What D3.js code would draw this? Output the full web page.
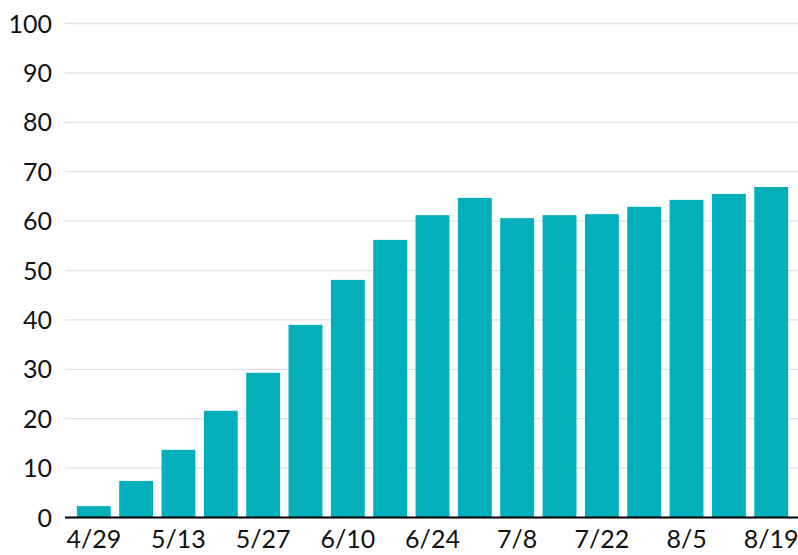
<!DOCTYPE html>
<html><head><meta charset="utf-8">
<script src="https://cdn.jsdelivr.net/npm/d3@7"></script>
<style>body{margin:0;background:#fff}svg{display:block}text{font-family:Lato,"Open Sans",sans-serif}</style>
</head><body>
<svg id="c" width="798" height="555"></svg>
<script>
const categories = ["4/29","5/6","5/13","5/20","5/27","6/3","6/10","6/17","6/24","7/1","7/8","7/15","7/22","7/29","8/5","8/12","8/19"];
const values = [2.3,7.4,13.7,21.6,29.3,39.0,48.1,56.2,61.2,64.7,60.6,61.2,61.4,62.9,64.3,65.5,66.9];
const xTickLabels = ["4/29","5/13","5/27","6/10","6/24","7/8","7/22","8/5","8/19"];
const yTicks = [0,10,20,30,40,50,60,70,80,90,100];

(function(){
const svg = d3.select("#c");
const mLeft = 65, mRight = 800, mTop = 23.5, mBottom = 517.5;
const x = d3.scaleBand().domain(categories).range([mLeft, mRight]).paddingInner(0.2).paddingOuter(0.28);
const y = d3.scaleLinear().domain([0,100]).range([mBottom, mTop]);

// gridlines
svg.append("g").selectAll("line").data(yTicks.filter(d=>d>0)).join("line")
  .attr("x1", mLeft).attr("x2", 798).attr("y1", d=>y(d)).attr("y2", d=>y(d))
  .attr("stroke", "#e2e2e2").attr("stroke-width", 1.3);

// y labels
svg.append("g").selectAll("text").data(yTicks).join("text")
  .attr("x", 52).attr("y", d=>y(d)).attr("dy","0.36em").attr("text-anchor","end")
  .attr("font-size", 25).attr("fill","#111").text(d=>d);

// bars
svg.append("g").selectAll("rect").data(values).join("rect")
  .attr("x", (d,i)=>x(categories[i])).attr("width", x.bandwidth())
  .attr("y", d=>y(d)).attr("height", d=>y(0)-y(d)).attr("fill", "#02afba");

// baseline
svg.append("line").attr("x1", mLeft).attr("x2", 798).attr("y1", mBottom).attr("y2", mBottom)
  .attr("stroke","#000").attr("stroke-width",2.2);

// x labels
svg.append("g").selectAll("text").data(xTickLabels).join("text")
  .attr("x", d=>x(d)+x.bandwidth()/2).attr("y", 548).attr("text-anchor","middle")
  .attr("font-size", 25).attr("fill","#111").text(d=>d);
})();
</script>
</body></html>
